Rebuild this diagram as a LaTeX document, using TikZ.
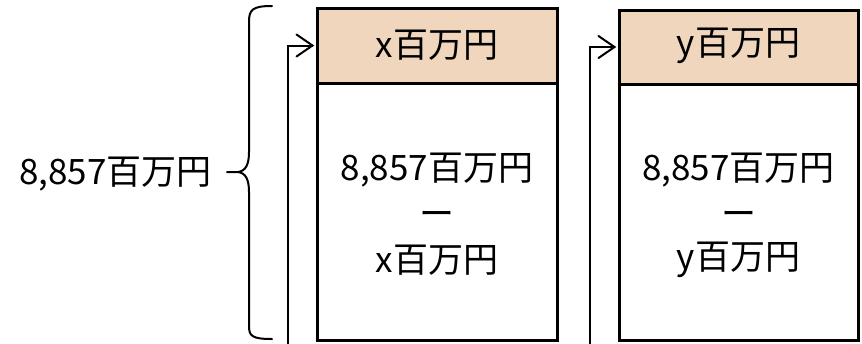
\documentclass[tikz,border=0pt]{standalone}
\usepackage{fontspec}
\setmainfont{Noto Sans CJK JP}
\usetikzlibrary{arrows.meta}
\definecolor{tan}{RGB}{241,214,190}
\tikzset{
  box/.style={draw=black, line width=3pt, inner sep=0pt},
  header/.style={box, fill=tan},
  body/.style={box, fill=white},
  lbl/.style={font=\fontsize{35}{40}\selectfont, inner sep=0pt},
  arr/.style={line width=2pt},
  chev/.style={line width=2pt, line cap=round, line join=miter},
  bracestyle/.style={line width=2pt, line cap=round}
}
\begin{document}
\begin{tikzpicture}[x=1pt,y=-1pt]
\useasboundingbox (0,0) rectangle (862,343);
% box 1
\node[body, minimum width=240pt, minimum height=257pt] (b1) at (437,211.5) {};
\node[header, minimum width=240pt, minimum height=75pt] (h1) at (437,45.5) {};
\node[lbl] (h1t) at (437,45) {x百万円};
\node[lbl] (b1a) at (437,170) {8,857百万円};
\node[lbl] (b1b) at (437,219) {ー};
\node[lbl] (b1c) at (437,260) {x百万円};
% box 2
\node[body, minimum width=239pt, minimum height=256pt] (b2) at (738.5,212) {};
\node[header, minimum width=239pt, minimum height=74pt] (h2) at (738.5,47) {};
\node[lbl] (h2t) at (738.5,46) {y百万円};
\node[lbl] (b2a) at (738.5,170) {8,857百万円};
\node[lbl] (b2b) at (738.5,219) {ー};
\node[lbl] (b2c) at (738.5,260) {y百万円};
% left label
\node[lbl, anchor=west] (lt) at (19,174) {8,857百万円};
% brace
\coordinate (bt) at (272,6);
\coordinate (bb) at (272,339);
\coordinate (bm) at (227,172);
\draw[bracestyle] (bt) .. controls (252,6) and (249,10) .. (249,22)
  -- (249,152) .. controls (249,164) and (246,171) .. (238,172) -- (bm);
\draw[bracestyle] (238,172) .. controls (246,173) and (249,180) .. (249,192)
  -- (249,326) .. controls (249,336) and (252,339) .. (bb);
% arrows
\coordinate (s1) at (288,345);
\coordinate (s2) at (590,345);
\coordinate (t1) at ([xshift=-3pt]h1.west);
\coordinate (t2) at ([xshift=-3pt]h2.west);
\draw[arr] (s1) |- (t1);
\draw[arr] (s2) |- (t2);
\draw[chev] ([xshift=-16pt,yshift=-11pt]t1) -- (t1) -- ([xshift=-16pt,yshift=11pt]t1);
\draw[chev] ([xshift=-16pt,yshift=-11pt]t2) -- (t2) -- ([xshift=-16pt,yshift=11pt]t2);
\end{tikzpicture}
\end{document}
